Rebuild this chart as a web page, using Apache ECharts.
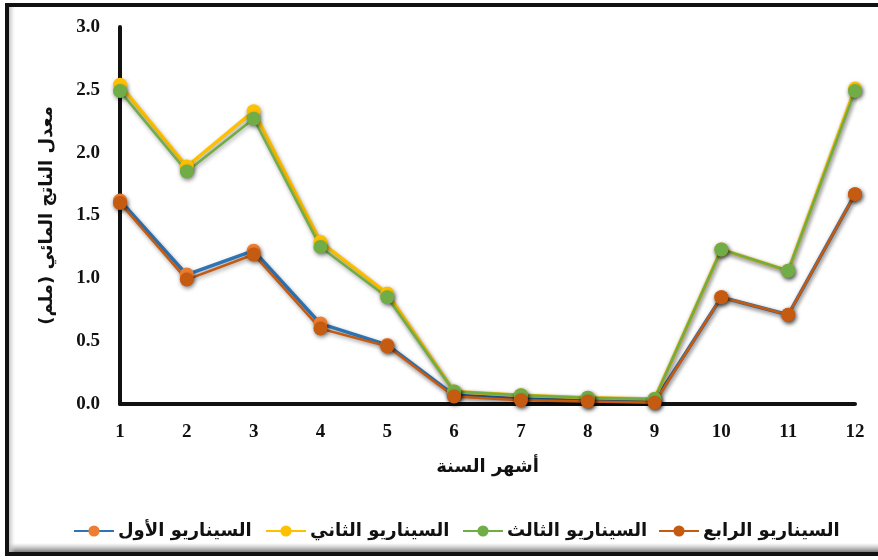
<!DOCTYPE html>
<html>
<head>
<meta charset="utf-8">
<script src="https://cdn.jsdelivr.net/npm/echarts@6/dist/echarts.min.js"></script>
<style>
  html, body { margin: 0; padding: 0; background: #ffffff; }
  #chart { width: 878px; height: 560px; }
</style>
</head>
<body>
<div id="chart"></div>
<script>
// Months of the year
const months = ['1', '2', '3', '4', '5', '6', '7', '8', '9', '10', '11', '12'];

// Mean water yield (mm) per scenario
const scenario1 = [1.62, 1.03, 1.22, 0.64, 0.47, 0.07, 0.04, 0.03, 0.02, 0.85, 0.71, 1.67];
const scenario2 = [2.54, 1.89, 2.33, 1.29, 0.88, 0.10, 0.07, 0.05, 0.04, 1.23, 1.06, 2.51];
const scenario3 = [2.49, 1.85, 2.27, 1.25, 0.85, 0.10, 0.07, 0.05, 0.04, 1.23, 1.06, 2.49];
const scenario4 = [1.60, 0.99, 1.19, 0.60, 0.46, 0.06, 0.03, 0.02, 0.01, 0.85, 0.71, 1.67];

const seriesNames = ['السيناريو الأول', 'السيناريو الثاني', 'السيناريو الثالث', 'السيناريو الرابع'];
const xTitle = 'أشهر السنة';
const yTitle = 'معدل الناتج المائي (ملم)';

const serifFont = '"Liberation Serif", "Times New Roman", serif';
const arabicFont = '"DejaVu Sans", sans-serif';

function lineSeries(name, data, lineColor, markerColor, width) {
  return {
    name: name,
    type: 'line',
    data: data,
    symbol: 'circle',
    symbolSize: 14,
    lineStyle: {
      color: lineColor,
      width: width,
      shadowColor: 'rgba(0,0,0,0.35)',
      shadowBlur: 4,
      shadowOffsetX: 1,
      shadowOffsetY: 2
    },
    itemStyle: {
      color: markerColor,
      borderWidth: 0,
      shadowColor: 'rgba(0,0,0,0.45)',
      shadowBlur: 4,
      shadowOffsetX: 1,
      shadowOffsetY: 2
    },
    emphasis: { disabled: true },
    animation: false
  };
}

// one legend entry per scenario, spread along the bottom
const legendLefts = [68, 260, 457, 653];
const legends = seriesNames.map(function (name, i) {
  return {
    left: legendLefts[i],
    top: 517,
    itemGap: 0,
    itemWidth: 40,
    itemHeight: 14,
    data: [name],
    textStyle: {
      fontFamily: arabicFont,
      fontWeight: 'bold',
      fontSize: 18,
      color: '#111111',
      padding: [0, 0, 0, -1]
    }
  };
});

const chart = echarts.init(document.getElementById('chart'), null, { renderer: 'canvas' });

chart.setOption({
  backgroundColor: '#ffffff',
  animation: false,
  graphic: [
    // inner shading along the frame
    {
      type: 'rect',
      shape: { x: 9, y: 543, width: 880, height: 9 },
      style: {
        fill: new echarts.graphic.LinearGradient(0, 0, 0, 1, [
          { offset: 0, color: 'rgba(160,160,160,0)' },
          { offset: 1, color: 'rgba(110,110,110,0.9)' }
        ])
      },
      silent: true
    },
    {
      type: 'rect',
      shape: { x: 9, y: 7, width: 6, height: 545 },
      style: {
        fill: new echarts.graphic.LinearGradient(0, 0, 1, 0, [
          { offset: 0, color: 'rgba(190,190,190,0.9)' },
          { offset: 1, color: 'rgba(220,220,220,0)' }
        ])
      },
      silent: true
    },
    // chart frame
    {
      type: 'rect',
      shape: { x: 7, y: 5, width: 885, height: 549 },
      style: { fill: 'none', stroke: '#111111', lineWidth: 4 },
      silent: true
    }
  ],
  grid: {
    left: 120,
    right: 23,
    top: 27,
    bottom: 156,
    containLabel: false
  },
  legend: legends,
  xAxis: {
    type: 'category',
    data: months,
    boundaryGap: false,
    name: xTitle,
    nameLocation: 'middle',
    nameGap: 54,
    nameTextStyle: {
      fontFamily: arabicFont,
      fontWeight: 'bold',
      fontSize: 18,
      color: '#111111'
    },
    axisLine: { lineStyle: { color: '#111111', width: 4 } },
    axisTick: { show: false },
    axisLabel: {
      margin: 19,
      fontFamily: serifFont,
      fontWeight: 'bold',
      fontSize: 19,
      color: '#111111'
    },
    splitLine: { show: false }
  },
  yAxis: {
    type: 'value',
    min: 0,
    max: 3,
    interval: 0.5,
    name: yTitle,
    nameLocation: 'middle',
    nameRotate: 90,
    nameGap: 64,
    nameTextStyle: {
      fontFamily: arabicFont,
      fontWeight: 'bold',
      fontSize: 18,
      color: '#111111'
    },
    axisLine: { show: true, lineStyle: { color: '#111111', width: 4 } },
    axisTick: { show: false },
    axisLabel: {
      margin: 20,
      fontFamily: serifFont,
      fontWeight: 'bold',
      fontSize: 19,
      color: '#111111',
      formatter: function (v) { return v.toFixed(1); }
    },
    splitLine: { show: false }
  },
  series: [
    lineSeries(seriesNames[0], scenario1, '#2E75B6', '#ED7D31', 3.5),
    lineSeries(seriesNames[1], scenario2, '#FFC000', '#FFC000', 3.5),
    lineSeries(seriesNames[2], scenario3, '#70AD47', '#70AD47', 2.5),
    lineSeries(seriesNames[3], scenario4, '#C55A11', '#C55A11', 2.5)
  ]
});
</script>
</body>
</html>
